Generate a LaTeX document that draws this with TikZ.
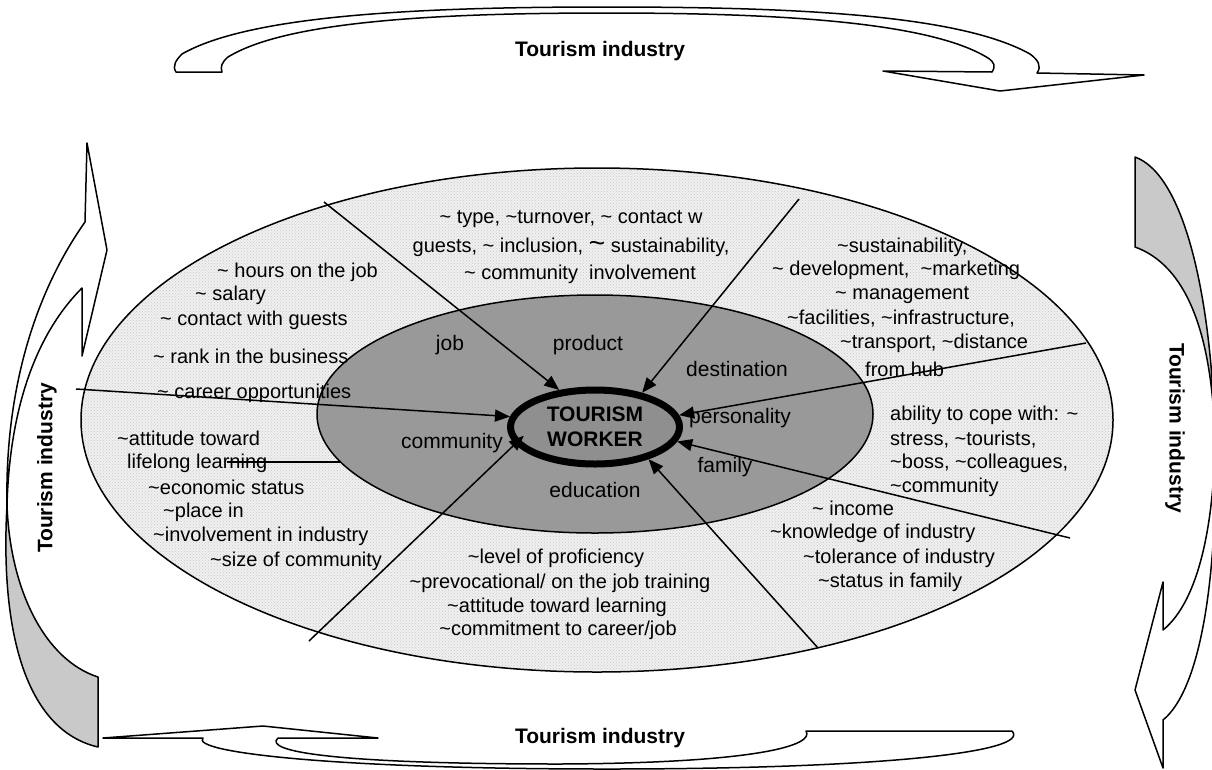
\documentclass[tikz,border=0pt]{standalone}
\usepackage{fontspec}
\setmainfont{Liberation Sans}
\usetikzlibrary{shapes.geometric,arrows.meta,patterns}
\newcommand\tld{\textasciitilde}
\begin{document}
\begin{tikzpicture}[x=1pt,y=-1pt,
  every node/.style={font=\fontsize{20}{24}\selectfont, inner sep=0pt},
  lbl/.style={anchor=west},
  ctr/.style={anchor=center},
  sector/.style={anchor=center, font=\fontsize{21}{24}\selectfont},
  ringline/.style={line width=1.5pt},
  band/.style={draw=black, line width=1.5pt, line join=round, fill=white},
  bandback/.style={band, fill=black!21},
  title/.style={font=\bfseries\fontsize{21}{25}\selectfont},
  feed/.style={line width=1.5pt, -{Triangle[length=15pt,width=12pt]}},
]
\useasboundingbox (0,0) rectangle (1212,769);

% outer ring: light dotted field
\fill[black!6] (597,420) ellipse [x radius=516, y radius=252];
\fill[pattern=crosshatch dots, pattern color=black!22] (597,420) ellipse [x radius=516, y radius=252];
\draw[ringline] (597,420) ellipse [x radius=516, y radius=252];

% inner ring
\draw[ringline, fill=black!40] (595,414) ellipse [x radius=278, y radius=119];

% job
\node[lbl] (j1) at (217,272) {\tld\ hours on the job};
\node[lbl] (j2) at (195,295) {\tld\ salary};
\node[lbl] (j3) at (160,320) {\tld\ contact with guests};
\node[lbl] (j4) at (153,356) {\tld\ rank in the business};
\node[lbl] (j5) at (157,393) {\tld\ career opportunities};

% product
\node[ctr] (p1) at (571,219) {\tld\ type, \tld turnover, \tld\ contact w};
\node[ctr] (p2) at (571,247) {guests, \tld\ inclusion, {\fontsize{28}{24}\selectfont\tld}\ sustainability,};
\node[ctr] (p3) at (580,274) {\tld\ community\ \ involvement};

% destination
\node[lbl] (d1) at (837,247) {\tld sustainability,};
\node[lbl] (d2) at (772,270) {\tld\ development,\ \ \tld marketing};
\node[lbl] (d3) at (835,295) {\tld\ management};
\node[lbl] (d4) at (787,319) {\tld facilities, \tld infrastructure,};
\node[lbl] (d5) at (840,343) {\tld transport, \tld distance};
\node[lbl] (d6) at (865,369) {from hub};

% personality
\node[lbl] (r1) at (890,415) {ability to cope with: \tld};
\node[lbl] (r2) at (890,440) {stress, \tld tourists,};
\node[lbl] (r3) at (890,463) {\tld boss, \tld colleagues,};
\node[lbl] (r4) at (890,487) {\tld community};

% family
\node[lbl] (f1) at (812,508) {\tld\ income};
\node[lbl] (f2) at (770,533) {\tld knowledge of industry};
\node[lbl] (f3) at (803,558) {\tld tolerance of industry};
\node[lbl] (f4) at (818,582) {\tld status in family};

% education
\node[ctr] (e1) at (556,558) {\tld level of proficiency};
\node[ctr] (e2) at (560,583) {\tld prevocational/ on the job training};
\node[ctr] (e3) at (557,607) {\tld attitude toward learning};
\node[ctr] (e4) at (558,630) {\tld commitment to career/job};

% community
\node[lbl] (c1) at (117,438) {\tld attitude toward};
\node[lbl] (c2) at (127,463) {lifelong learning};
\node[lbl] (c3) at (148,487) {\tld economic status};
\node[lbl] (c4) at (163,512) {\tld place in};
\node[lbl] (c5) at (153,536) {\tld involvement in industry};
\node[lbl] (c6) at (210,561) {\tld size of community};

% sector names
\node[sector] (njob) at (450,345) {job};
\node[sector] (nprod) at (588,345) {product};
\node[sector] (ndest) at (737,369) {destination};
\node[sector] (npers) at (740,418) {personality};
\node[sector] (ncomm) at (452,443) {community};
\node[sector] (nfam) at (725,467) {family};
\node[sector] (nedu) at (595,490) {education};

% centre
\node[ellipse, draw, line width=7pt, fill=black!44, minimum width=169pt,
      minimum height=74pt, outer sep=3.5pt, align=center, title]
      (worker) at (595,427) {TOURISM\\WORKER};

% spokes
\coordinate (s1) at (324,202);
\coordinate (s2) at (799,199);
\coordinate (s3) at (1086,343);
\coordinate (s4) at (1070,538);
\coordinate (s5) at (818,648);
\coordinate (s6) at (309,641);
\coordinate (s7) at (76,389);
\coordinate (ll) at (227,462);
\coordinate (le) at (341,462);

\draw[feed] (s1) -- (worker.134);
\draw[feed] (s2) -- (worker.36);
\draw[feed] (s3) -- (worker.8);
\draw[feed] (s4) -- (worker.-10);
\draw[feed] (s5) -- (worker.-31);
\draw[feed, shorten >=-12pt] (s6) -- (worker.192);
\draw[feed] (s7) -- (worker.173);
\draw[ringline] (ll) -- (le);

% top band
\draw[band] (176,72) .. controls (172,66) and (176,60) .. (182,54)
  .. controls (250,15) and (420,7) .. (606,7)
  .. controls (800,7) and (960,15) .. (1030,54)
  .. controls (1038,60) and (1042,66) .. (1037,73)
  -- (1144,75) -- (1000,91) -- (883,71) -- (992,72)
  .. controls (996,66) and (994,62) .. (988,58)
  .. controls (930,22) and (780,13) .. (607,13)
  .. controls (430,13) and (285,22) .. (228,57)
  .. controls (222,62) and (220,67) .. (222,72) -- cycle;
\node[title] (ttop) at (600,51) {Tourism industry};

% bottom band
\draw[band] (1012,731) -- (806,731)
  .. controls (815,745) and (760,763) .. (560,764)
  .. controls (340,764) and (262,752) .. (278,738)
  -- (378,738) -- (263,726) -- (103,738) -- (203,738)
  .. controls (190,752) and (330,769) .. (607,769)
  .. controls (880,769) and (1032,752) .. (1012,731) -- cycle;
\node[title] (tbot) at (600,738) {Tourism industry};

% left band
\draw[band] (85,222) -- (87,143) -- (107,250) -- (82,356) -- (82,288)
  .. controls (40,330) and (10,400) .. (7,505)
  .. controls (5,400) and (30,300) .. (85,222) -- cycle;
\draw[bandback] (7,505) .. controls (0,630) and (25,730) .. (98,747)
  -- (98,677) .. controls (45,660) and (10,590) .. (7,505) -- cycle;
\node[title, rotate=90] (tleft) at (47,468) {Tourism industry};

% right band
\draw[bandback] (1135,157) .. controls (1185,175) and (1212,300) .. (1215,440)
  .. controls (1212,330) and (1185,265) .. (1135,247) -- cycle;
\draw[band] (1215,440) .. controls (1218,580) and (1200,690) .. (1163,720)
  -- (1163,768) -- (1135,690) -- (1163,582) -- (1163,630)
  .. controls (1200,600) and (1214,520) .. (1215,440) -- cycle;
\node[title, rotate=-90] (tright) at (1175,428) {Tourism industry};
\end{tikzpicture}
\end{document}
